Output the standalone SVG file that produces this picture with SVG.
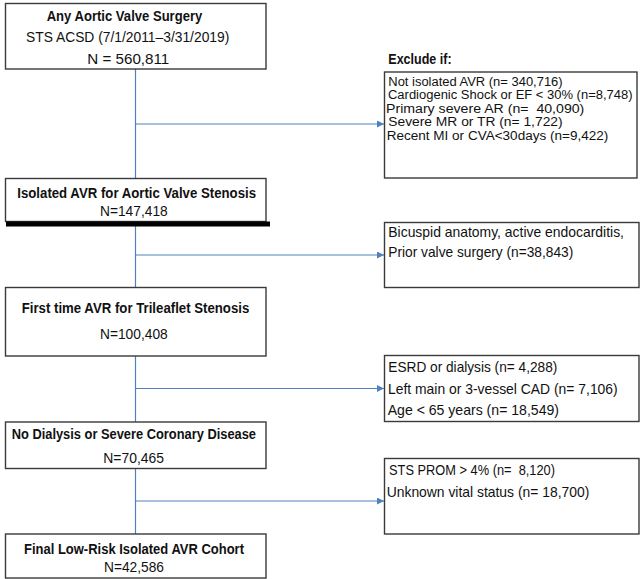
<svg xmlns="http://www.w3.org/2000/svg" width="640" height="579" viewBox="0 0 640 579">
<defs>
<style>
.box{fill:#fff;stroke:#3a3a3a;stroke-width:1.4}
.t{font-family:"Liberation Sans",Arial,sans-serif;font-size:14.5px;fill:#111}
.s{font-size:12.5px}
.b{font-weight:bold}
.c{fill:none;stroke:#4f81bd;stroke-width:1.2}
</style>
<marker id="ah" viewBox="0 0 10 10" refX="10" refY="5" markerWidth="7" markerHeight="7" markerUnits="userSpaceOnUse" orient="auto">
<path d="M0,0 L10,5 L0,10 z" fill="#4f81bd"/>
</marker>
</defs>
<rect width="640" height="579" fill="#fff"/>
<g id="connectors">
<line class="c" x1="135.5" y1="69" x2="135.5" y2="178"/>
<line class="c" x1="135.5" y1="124" x2="384" y2="124" marker-end="url(#ah)"/>
<line class="c" x1="135.5" y1="226" x2="135.5" y2="287"/>
<line class="c" x1="135.5" y1="255" x2="384" y2="255" marker-end="url(#ah)"/>
<line class="c" x1="135.5" y1="356" x2="135.5" y2="422"/>
<line class="c" x1="135.5" y1="388.5" x2="384" y2="388.5" marker-end="url(#ah)"/>
<line class="c" x1="135.5" y1="468" x2="135.5" y2="534"/>
<line class="c" x1="135.5" y1="501" x2="384" y2="501" marker-end="url(#ah)"/>
</g>
<g id="node1">
<rect class="box" x="5.5" y="3.5" width="260.5" height="65.5"/>
<text class="t b" x="46.7" y="20.5" textLength="155.6" lengthAdjust="spacingAndGlyphs">Any Aortic Valve Surgery</text>
<text class="t" x="26" y="42" textLength="203.3" lengthAdjust="spacingAndGlyphs">STS ACSD (7/1/2011–3/31/2019)</text>
<text class="t" x="87.3" y="64" textLength="82" lengthAdjust="spacingAndGlyphs">N = 560,811</text>
</g>
<g id="node2">
<rect class="box" x="5.5" y="178.5" width="260.5" height="43"/>
<rect x="6" y="221.5" width="264" height="5" fill="#000"/>
<text class="t b" x="17.3" y="198.3" textLength="238.7" lengthAdjust="spacingAndGlyphs">Isolated AVR for Aortic Valve Stenosis</text>
<text class="t" x="100" y="216" textLength="67.7" lengthAdjust="spacingAndGlyphs">N=147,418</text>
</g>
<g id="node3">
<rect class="box" x="5.5" y="287.5" width="260.5" height="68.5"/>
<text class="t b" x="21.7" y="313.3" textLength="227.6" lengthAdjust="spacingAndGlyphs">First time AVR for Trileaflet Stenosis</text>
<text class="t" x="100" y="339.3" textLength="67.7" lengthAdjust="spacingAndGlyphs">N=100,408</text>
</g>
<g id="node4">
<rect class="box" x="5.5" y="422" width="260.5" height="46.5"/>
<text class="t b" x="11.7" y="439.3" textLength="244.3" lengthAdjust="spacingAndGlyphs">No Dialysis or Severe Coronary Disease</text>
<text class="t" x="103.3" y="463.3" textLength="60.7" lengthAdjust="spacingAndGlyphs">N=70,465</text>
</g>
<g id="node5">
<rect class="box" x="5.5" y="534" width="260.5" height="44"/>
<text class="t b" x="24" y="554.3" textLength="220" lengthAdjust="spacingAndGlyphs">Final Low-Risk Isolated AVR Cohort</text>
<text class="t" x="104" y="571.7" textLength="60" lengthAdjust="spacingAndGlyphs">N=42,586</text>
</g>
<g id="exclude1">
<text class="t b" x="388.3" y="64.3" textLength="63.3" lengthAdjust="spacingAndGlyphs">Exclude if:</text>
<rect class="box" x="384.5" y="72" width="252.5" height="106"/>
<text class="t s" x="388.3" y="85.5" textLength="174.3" lengthAdjust="spacingAndGlyphs">Not isolated AVR (n= 340,716)</text>
<text class="t s" x="388" y="99" textLength="244.5" lengthAdjust="spacingAndGlyphs">Cardiogenic Shock or EF &lt; 30% (n=8,748)</text>
<text class="t s" x="386" y="112.5" textLength="198.3" lengthAdjust="spacingAndGlyphs" xml:space="preserve">Primary severe AR (n=  40,090)</text>
<text class="t s" x="388.3" y="126" textLength="174.3" lengthAdjust="spacingAndGlyphs">Severe MR or TR (n= 1,722)</text>
<text class="t s" x="386.7" y="139.5" textLength="221.6" lengthAdjust="spacingAndGlyphs">Recent MI or CVA&lt;30days (n=9,422)</text>
</g>
<g id="exclude2">
<rect class="box" x="384.5" y="222.5" width="254.5" height="65"/>
<text class="t" x="388.3" y="237" textLength="235.7" lengthAdjust="spacingAndGlyphs">Bicuspid anatomy, active endocarditis,</text>
<text class="t" x="388.3" y="256.5" textLength="185" lengthAdjust="spacingAndGlyphs">Prior valve surgery (n=38,843)</text>
</g>
<g id="exclude3">
<rect class="box" x="384.5" y="355.5" width="254.5" height="66"/>
<text class="t" x="388.3" y="372.3" textLength="169" lengthAdjust="spacingAndGlyphs">ESRD or dialysis (n= 4,288)</text>
<text class="t" x="388" y="394.3" textLength="229.7" lengthAdjust="spacingAndGlyphs">Left main or 3-vessel CAD (n= 7,106)</text>
<text class="t" x="387.7" y="415" textLength="171.3" lengthAdjust="spacingAndGlyphs">Age &lt; 65 years (n= 18,549)</text>
</g>
<g id="exclude4">
<rect class="box" x="384.5" y="458.5" width="254.5" height="75.5"/>
<text class="t" x="389" y="475.3" textLength="166" lengthAdjust="spacingAndGlyphs" xml:space="preserve">STS PROM &gt; 4% (n=  8,120)</text>
<text class="t" x="386.7" y="496.7" textLength="202.6" lengthAdjust="spacingAndGlyphs">Unknown vital status (n= 18,700)</text>
</g>
</svg>
